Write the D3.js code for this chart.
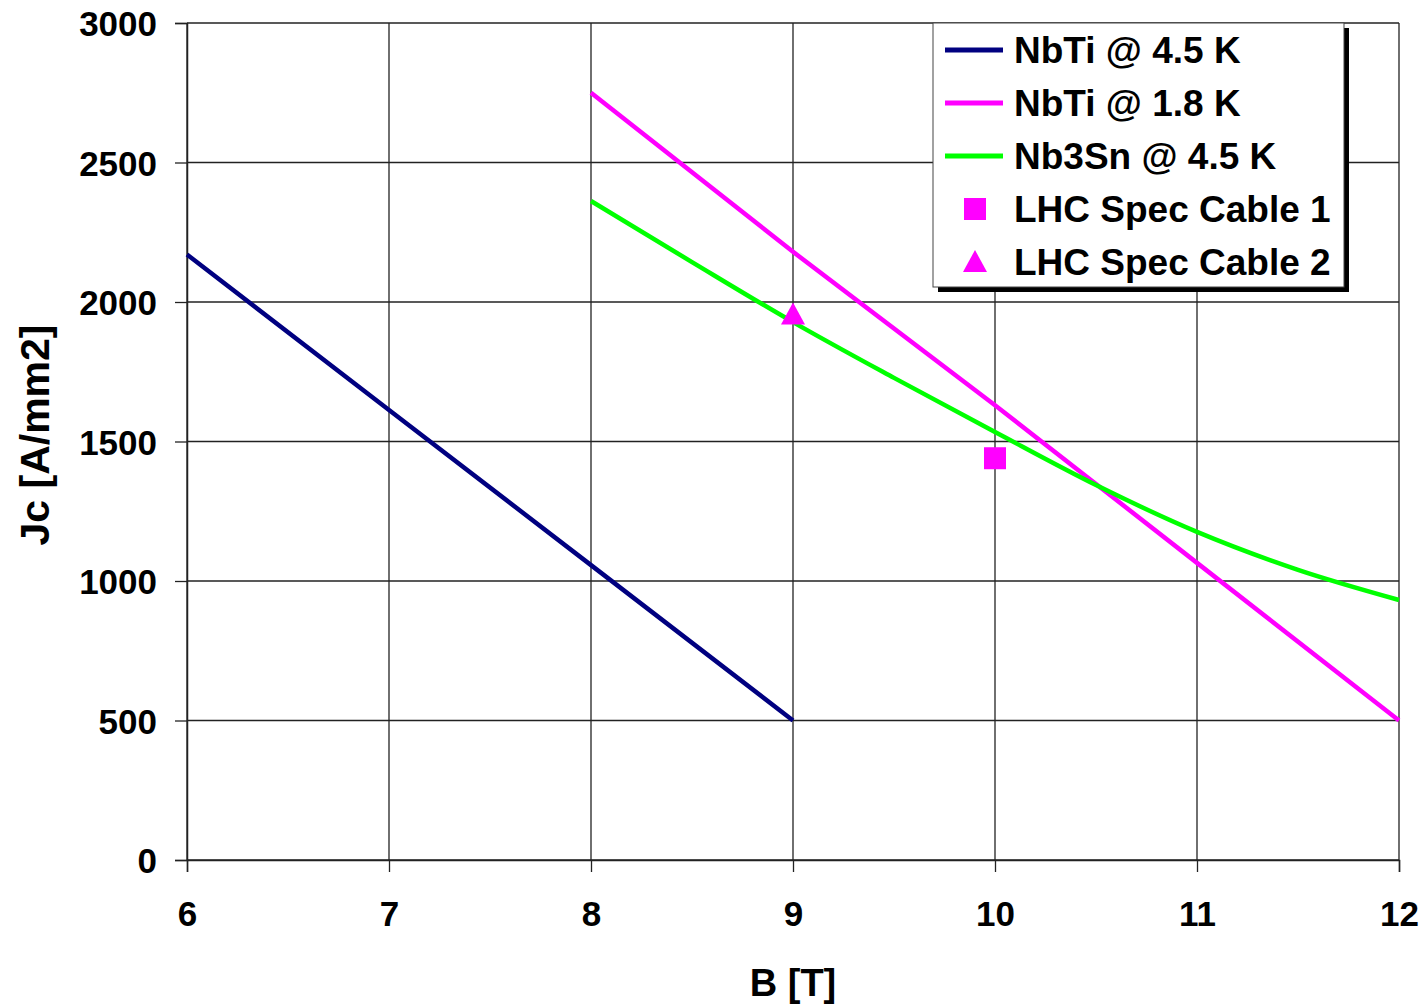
<!DOCTYPE html>
<html>
<head>
<meta charset="utf-8">
<script src="https://cdn.jsdelivr.net/npm/d3@7"></script>
<style>
  body { margin: 0; background: #fff; }
  text { font-family: "Liberation Sans", Arial, sans-serif; font-weight: bold; }
</style>
</head>
<body>
<div id="vis"></div>
<script>
// data
var nbti45B = [6, 7, 8, 9];
var nbti45Jc = [2170, 1613, 1057, 500];
var nbti18B = [8, 9, 10, 11, 12];
var nbti18Jc = [2750, 2180, 1630, 1065, 500];
var nb3snB = [8, 8.5, 9, 9.5, 10, 10.5, 11, 11.5, 12];
var nb3snJc = [2362, 2143, 1928, 1728, 1534, 1344, 1176, 1040, 932];
var cable1 = {B: 10, Jc: 1440};
var cable2 = {B: 9, Jc: 1955};
var xTicks = [6, 7, 8, 9, 10, 11, 12];
var yTicks = [0, 500, 1000, 1500, 2000, 2500, 3000];

var width = 1427,
    height = 1007,
    margin = {top: 23, right: 28, bottom: 147, left: 187},
    drawWidth = width - margin.left - margin.right,
    drawHeight = height - margin.top - margin.bottom;

var svg = d3.select("#vis").append("svg")
    .attr("width", width)
    .attr("height", height);

var g = svg.append("g")
    .attr("transform", "translate(" + margin.left + "," + margin.top + ")");

var x = d3.scaleLinear().domain([6, 12]).range([0, drawWidth]);
var y = d3.scaleLinear().domain([0, 3000]).range([drawHeight, 0]);

// grid
g.selectAll(".vgrid").data(xTicks).enter().append("line")
    .attr("x1", function(d) { return x(d); })
    .attr("x2", function(d) { return x(d); })
    .attr("y1", 0).attr("y2", drawHeight)
    .attr("stroke", "#222").attr("stroke-width", 1.3);
g.selectAll(".hgrid").data(yTicks).enter().append("line")
    .attr("y1", function(d) { return y(d); })
    .attr("y2", function(d) { return y(d); })
    .attr("x1", 0).attr("x2", drawWidth)
    .attr("stroke", "#222").attr("stroke-width", 1.3);

// axes
var xAxis = d3.axisBottom(x).tickValues(xTicks).tickFormat(d3.format("d")).tickSize(12).tickPadding(29);
var yAxis = d3.axisLeft(y).tickValues(yTicks).tickFormat(d3.format("d")).tickSize(12).tickPadding(18);

var gx = g.append("g").attr("transform", "translate(0," + drawHeight + ")").call(xAxis);
var gy = g.append("g").call(yAxis);
[gx, gy].forEach(function(a) {
    a.attr("font-size", null).attr("font-family", null);
    a.selectAll("path").attr("stroke", "#222").attr("stroke-width", 1.5);
    a.selectAll("line").attr("stroke", "#222").attr("stroke-width", 1.3);
    a.selectAll("text").style("font-size", "35px").attr("fill", "#000");
});
gy.selectAll("text").attr("dy", "0.36em");

// axis titles
svg.append("text")
    .attr("x", margin.left + x(9))
    .attr("y", 996)
    .attr("text-anchor", "middle")
    .style("font-size", "38px")
    .text("B [T]");
svg.append("text")
    .attr("transform", "translate(34,435) rotate(-90)")
    .attr("text-anchor", "middle")
    .attr("dy", "0.36em")
    .style("font-size", "41px")
    .text("Jc [A/mm2]");

// lines
var line = d3.line()
    .x(function(d) { return x(d[0]); })
    .y(function(d) { return y(d[1]); });

var series = [
    {name: "NbTi @ 4.5 K", color: "#000080", pts: d3.zip(nbti45B, nbti45Jc), curve: d3.curveLinear},
    {name: "NbTi @ 1.8 K", color: "#FF00FF", pts: d3.zip(nbti18B, nbti18Jc), curve: d3.curveLinear},
    {name: "Nb3Sn @ 4.5 K", color: "#00FF00", pts: d3.zip(nb3snB, nb3snJc), curve: d3.curveMonotoneX}
];

series.forEach(function(s) {
    g.append("path")
        .attr("d", line.curve(s.curve)(s.pts))
        .attr("fill", "none")
        .attr("stroke", s.color)
        .attr("stroke-width", 4.5);
});

// markers
g.append("rect")
    .attr("x", x(cable1.B) - 11)
    .attr("y", y(cable1.Jc) - 11)
    .attr("width", 22).attr("height", 22)
    .attr("fill", "#FF00FF");
g.append("path")
    .attr("transform", "translate(" + x(cable2.B) + "," + y(cable2.Jc) + ")")
    .attr("d", "M0,-12 L12,10 L-12,10 Z")
    .attr("fill", "#FF00FF");

// legend
var lx = 933, ly = 23, lw = 411, lh = 264;
svg.append("rect").attr("x", lx + 5).attr("y", ly + 5).attr("width", lw).attr("height", lh).attr("fill", "#000");
svg.append("rect").attr("x", lx).attr("y", ly).attr("width", lw).attr("height", lh)
    .attr("fill", "#fff").attr("stroke", "#444").attr("stroke-width", 1);

var items = [
    {name: series[0].name, color: series[0].color, type: "line"},
    {name: series[1].name, color: series[1].color, type: "line"},
    {name: series[2].name, color: series[2].color, type: "line"},
    {name: "LHC Spec Cable 1", color: "#FF00FF", type: "square"},
    {name: "LHC Spec Cable 2", color: "#FF00FF", type: "triangle"}
];

var rows = svg.selectAll(".leg").data(items).enter().append("g")
    .attr("transform", function(d, i) { return "translate(" + lx + "," + (ly + 27 + i * 53) + ")"; });

rows.each(function(d) {
    var r = d3.select(this);
    if (d.type === "line") {
        r.append("line").attr("x1", 12).attr("x2", 70).attr("y1", 0).attr("y2", 0)
            .attr("stroke", d.color).attr("stroke-width", 5);
    } else if (d.type === "square") {
        r.append("rect").attr("x", 31).attr("y", -11).attr("width", 22).attr("height", 22).attr("fill", d.color);
    } else {
        r.append("path").attr("d", "M42,-12 L54,10 L30,10 Z").attr("fill", d.color);
    }
    r.append("text").attr("x", 81).attr("y", 0).attr("dy", "0.36em")
        .style("font-size", "37px").text(d.name);
});
</script>
</body>
</html>
